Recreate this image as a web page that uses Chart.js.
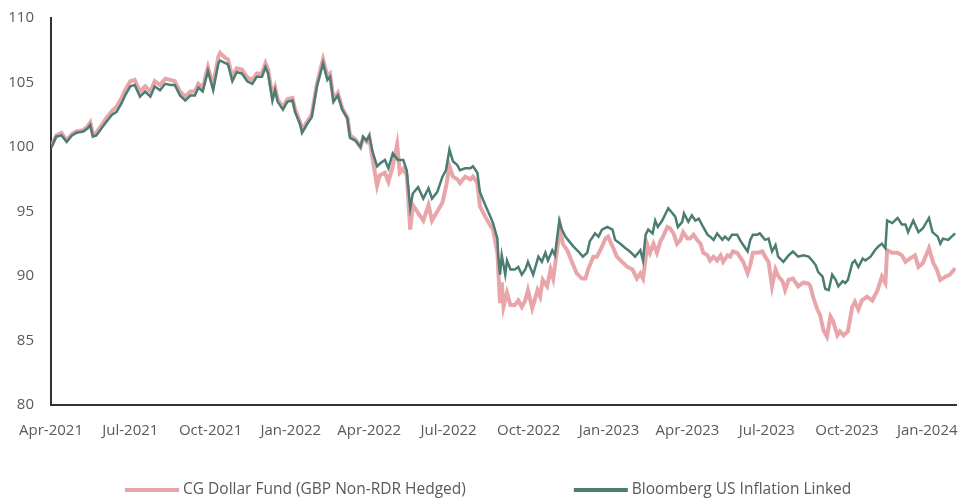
<!DOCTYPE html>
<html>
<head>
<meta charset="utf-8">
<script src="https://cdn.jsdelivr.net/npm/chart.js@4.4.1/dist/chart.umd.min.js"></script>
<style>
  html, body { margin: 0; padding: 0; background: #ffffff; }
  #wrap { width: 962px; height: 500px; }
</style>
</head>
<body>
<div id="wrap"><canvas id="c" width="962" height="500"></canvas></div>
<script>
// Day offsets are counted from 1 Apr 2021
const tickDays = [0, 91, 183, 275, 365, 456, 548, 640, 730, 821, 913, 1005];
const tickLabels = ['Apr-2021', 'Jul-2021', 'Oct-2021', 'Jan-2022', 'Apr-2022', 'Jul-2022',
  'Oct-2022', 'Jan-2023', 'Apr-2023', 'Jul-2023', 'Oct-2023', 'Jan-2024'];

const seriesNames = ['CG Dollar Fund (GBP Non-RDR Hedged)', 'Bloomberg US Inflation Linked'];

const fundDays = [0, 6, 12, 18, 24, 29, 37, 42, 45, 48, 52, 58, 64, 70, 75, 81, 85, 91, 96, 102,
  108, 114, 119, 125, 131, 137, 142, 148, 154, 160, 165, 169, 174, 180, 186, 192, 194, 200, 203, 208,
  213, 219, 225, 231, 236, 242, 246, 249, 254, 257, 260, 266, 271, 277, 280, 286, 288, 294, 299, 305,
  309, 312, 317, 320, 324, 329, 334, 340, 343, 349, 355, 358, 362, 365, 369, 374, 377, 383, 387, 392,
  397, 400, 404, 408, 412, 415, 421, 427, 433, 437, 443, 449, 453, 457, 461, 466, 469, 475, 481, 484,
  489, 492, 498, 504, 507, 512, 515, 517, 519, 523, 527, 532, 536, 540, 544, 547, 552, 558, 561, 564,
  569, 573, 576, 581, 584, 587, 592, 598, 603, 609, 613, 616, 622, 626, 630, 636, 639, 644, 649, 655,
  661, 667, 672, 676, 679, 684, 687, 691, 695, 699, 702, 707, 710, 714, 718, 722, 725, 730, 733, 737,
  741, 745, 748, 753, 756, 760, 764, 768, 771, 776, 779, 782, 787, 790, 794, 799, 802, 805, 811, 816,
  819, 823, 827, 831, 834, 839, 842, 846, 851, 857, 863, 869, 871, 874, 879, 882, 886, 890, 894, 897,
  902, 905, 909, 914, 919, 922, 926, 930, 936, 942, 948, 953, 957, 959, 965, 971, 976, 980, 985, 991,
  995, 1000, 1007, 1012, 1016, 1020, 1026, 1031, 1037];
const fundValues = [100.0, 100.9, 101.1, 100.5, 101.0, 101.2, 101.3, 101.6, 101.9, 101.0, 101.1, 101.7, 102.3, 102.8, 103.1, 103.8, 104.4, 105.1, 105.2, 104.3,
  104.7, 104.3, 105.1, 104.8, 105.3, 105.2, 105.1, 104.3, 103.9, 104.3, 104.3, 104.9, 104.6, 106.2, 104.8, 107.0, 107.3, 106.9, 106.8, 105.4,
  106.1, 106.0, 105.4, 105.2, 105.7, 105.7, 106.5, 106.0, 103.9, 104.6, 103.7, 103.1, 103.7, 103.8, 102.9, 101.9, 101.3, 102.0, 102.5, 104.9,
  106.0, 106.8, 105.5, 105.7, 103.7, 104.2, 103.0, 102.3, 100.9, 100.6, 100.0, 100.7, 100.4, 100.8, 99.0, 97.0, 97.8, 98.0, 97.3, 98.5,
  100.2, 98.0, 98.3, 97.8, 93.6, 95.5, 94.9, 94.3, 95.5, 94.3, 95.0, 95.7, 96.9, 98.5, 97.7, 97.5, 97.2, 97.7, 97.5, 97.7,
  97.2, 95.4, 94.6, 93.9, 93.6, 91.8, 87.9, 89.5, 87.6, 88.7, 87.75, 87.75, 88.1, 87.6, 88.1, 88.9, 87.5, 88.9, 88.4, 89.7,
  89.2, 90.5, 89.8, 92.3, 93.7, 92.5, 92.0, 91.0, 90.2, 89.8, 89.8, 90.5, 91.5, 91.5, 92.0, 92.9, 93.05, 92.3, 91.5, 91.1,
  90.7, 90.5, 89.8, 90.2, 89.8, 92.4, 91.8, 92.5, 91.8, 92.7, 93.05, 93.8, 93.7, 93.3, 92.5, 92.8, 93.4, 92.9, 92.9, 93.2,
  92.8, 92.5, 91.8, 91.6, 91.2, 91.5, 91.2, 91.6, 91.1, 91.6, 91.5, 91.9, 91.8, 91.5, 91.1, 90.2, 90.85, 91.8, 91.8, 91.9,
  91.5, 91.1, 89.2, 90.5, 90.0, 89.6, 88.9, 89.7, 89.8, 89.2, 89.5, 89.4, 89.2, 88.4, 87.4, 87.0, 85.8, 85.3, 86.85, 86.5,
  85.4, 85.7, 85.4, 85.7, 87.6, 88.0, 87.4, 88.1, 88.4, 88.1, 88.9, 89.95, 89.45, 92.0, 91.8, 91.8, 91.6, 91.1, 91.35, 91.6,
  90.7, 91.0, 92.15, 91.0, 90.5, 89.7, 89.95, 90.1, 90.6];

const indexDays = [0, 6, 12, 18, 24, 29, 37, 42, 45, 48, 52, 58, 64, 70, 75, 81, 85, 91, 96, 102,
  108, 114, 119, 125, 131, 137, 142, 148, 154, 160, 165, 169, 174, 180, 186, 192, 194, 200, 203, 208,
  213, 219, 225, 231, 236, 242, 246, 249, 254, 257, 260, 266, 271, 277, 280, 286, 288, 294, 299, 305,
  309, 312, 317, 320, 324, 329, 334, 340, 343, 349, 355, 358, 362, 365, 369, 374, 377, 383, 387, 392,
  398, 404, 408, 412, 415, 421, 427, 433, 437, 443, 449, 453, 457, 461, 466, 469, 475, 481, 484, 489,
  492, 498, 504, 507, 512, 513, 515, 517, 521, 523, 527, 532, 536, 540, 544, 547, 553, 559, 563, 567,
  570, 575, 578, 583, 586, 590, 593, 599, 605, 610, 615, 618, 624, 628, 632, 638, 644, 647, 653, 659,
  664, 670, 676, 679, 682, 685, 690, 693, 696, 701, 705, 708, 713, 716, 719, 724, 726, 731, 735, 739,
  743, 748, 753, 756, 760, 764, 770, 773, 777, 781, 787, 791, 794, 799, 802, 805, 810, 813, 819, 823,
  827, 831, 834, 840, 846, 851, 857, 863, 869, 873, 877, 880, 885, 888, 892, 896, 900, 903, 908, 911,
  914, 919, 922, 926, 931, 934, 940, 945, 949, 953, 957, 959, 965, 971, 976, 980, 983, 989, 995, 1000,
  1007, 1011, 1017, 1020, 1023, 1029, 1037];
const indexValues = [99.9, 100.8, 100.9, 100.4, 100.9, 101.1, 101.2, 101.45, 101.7, 100.8, 100.9, 101.45, 102.0, 102.5, 102.7, 103.4, 104.0, 104.7, 104.8, 103.9,
  104.3, 103.9, 104.7, 104.4, 104.9, 104.8, 104.8, 104.0, 103.6, 104.0, 104.0, 104.6, 104.3, 105.9, 104.4, 106.5, 106.7, 106.5, 106.4, 105.1,
  105.8, 105.7, 105.1, 104.9, 105.45, 105.45, 106.2, 105.7, 103.6, 104.4, 103.5, 102.9, 103.5, 103.6, 102.7, 101.7, 101.1, 101.8, 102.3, 104.7,
  105.7, 106.5, 105.2, 105.45, 103.5, 104.0, 102.9, 102.2, 100.7, 100.5, 100.0, 100.8, 100.5, 100.9, 99.6, 98.5, 98.7, 99.0, 98.35, 99.5,
  99.0, 99.0, 98.2, 95.25, 96.4, 96.9, 96.0, 96.8, 96.0, 96.5, 97.7, 98.2, 99.8, 98.9, 98.6, 98.2, 98.35, 98.35, 98.5, 98.0,
  96.5, 95.5, 94.6, 94.1, 92.9, 91.5, 90.1, 91.6, 90.1, 91.2, 90.5, 90.5, 90.7, 90.1, 90.5, 91.1, 90.1, 91.5, 91.1, 91.8,
  91.2, 92.0, 91.6, 94.3, 93.6, 93.05, 92.8, 92.3, 91.9, 91.5, 91.8, 92.7, 93.3, 93.05, 93.6, 93.8, 93.6, 92.8, 92.5, 92.15,
  91.9, 91.5, 92.0, 91.2, 93.2, 93.6, 93.3, 94.3, 93.8, 94.3, 94.85, 95.25, 94.85, 94.6, 93.8, 94.2, 94.85, 94.2, 94.7, 94.3,
  94.45, 93.8, 93.2, 93.05, 92.8, 93.3, 92.8, 93.05, 92.8, 93.2, 93.2, 92.7, 92.4, 91.9, 92.8, 93.2, 93.2, 93.3, 92.8, 92.9,
  91.9, 92.4, 91.5, 91.1, 91.6, 91.9, 91.5, 91.6, 91.5, 91.2, 90.85, 90.3, 89.95, 89.0, 88.9, 90.1, 89.7, 89.2, 89.6, 89.45,
  89.7, 91.0, 91.2, 90.7, 91.35, 91.2, 91.5, 92.0, 92.3, 92.5, 92.15, 94.3, 94.1, 94.5, 94.0, 94.0, 93.4, 94.3, 93.4, 93.7,
  94.5, 93.4, 93.05, 92.5, 92.9, 92.8, 93.3];

const yMin = 80, yMax = 110, yStep = 5;

const FONT = '"Open Sans", "Noto Sans", sans-serif';
const TEXT_COLOR = '#595959';
const PINK = '#e8a6aa';
const GREEN = '#4b7d72';

function zip(xs, ys) { return xs.map((x, i) => ({ x: x, y: ys[i] })); }

const bottomLegend = {
  id: 'bottomLegend',
  afterDraw(chart) {
    const ctx = chart.ctx;
    ctx.save();
    ctx.font = '15.5px ' + FONT;
    ctx.textBaseline = 'middle';
    ctx.textAlign = 'left';
    const y = 490;
    let x = 125;
    chart.data.datasets.forEach((ds) => {
      ctx.fillStyle = ds.borderColor;
      ctx.fillRect(x, y - 2, 54, 4);
      x += 58;
      ctx.fillStyle = TEXT_COLOR;
      ctx.fillText(ds.label, x, y);
      x += ctx.measureText(ds.label).width + 108;
    });
    ctx.restore();
  }
};

new Chart(document.getElementById('c'), {
  type: 'line',
  data: {
    datasets: [
      { label: seriesNames[0], data: zip(fundDays, fundValues), borderColor: PINK, backgroundColor: PINK,
        borderWidth: 4, pointRadius: 0, tension: 0, order: 2 },
      { label: seriesNames[1], data: zip(indexDays, indexValues), borderColor: GREEN, backgroundColor: GREEN,
        borderWidth: 2.5, pointRadius: 0, tension: 0, order: 1 }
    ]
  },
  options: {
    responsive: false,
    animation: false,
    devicePixelRatio: 1,
    layout: { padding: { left: 8, right: 6, top: 18, bottom: 55 } },
    plugins: { legend: { display: false }, tooltip: { enabled: false } },
    scales: {
      x: {
        type: 'linear', min: 0, max: 1038,
        grid: { display: false, drawTicks: false },
        border: { display: true, color: '#333333', width: 2 },
        afterBuildTicks: (s) => { s.ticks = tickDays.map(v => ({ value: v })); },
        afterFit: (s) => { s.height = 40; s.paddingLeft = 0; s.paddingRight = 0; },
        ticks: {
          autoSkip: false, maxRotation: 0, padding: 17,
          color: TEXT_COLOR, font: { family: FONT, size: 15 },
          callback: (v) => { const i = tickDays.indexOf(v); return i >= 0 ? tickLabels[i] : ''; }
        }
      },
      y: {
        min: yMin, max: yMax,
        grid: { display: false, drawTicks: false },
        border: { display: true, color: '#333333', width: 2 },
        afterFit: (s) => { s.width = 43; s.paddingTop = 0; s.paddingBottom = 0; },
        ticks: { stepSize: yStep, padding: 17, color: TEXT_COLOR, font: { family: FONT, size: 15 } }
      }
    }
  },
  plugins: [bottomLegend]
});
</script>
</body>
</html>
